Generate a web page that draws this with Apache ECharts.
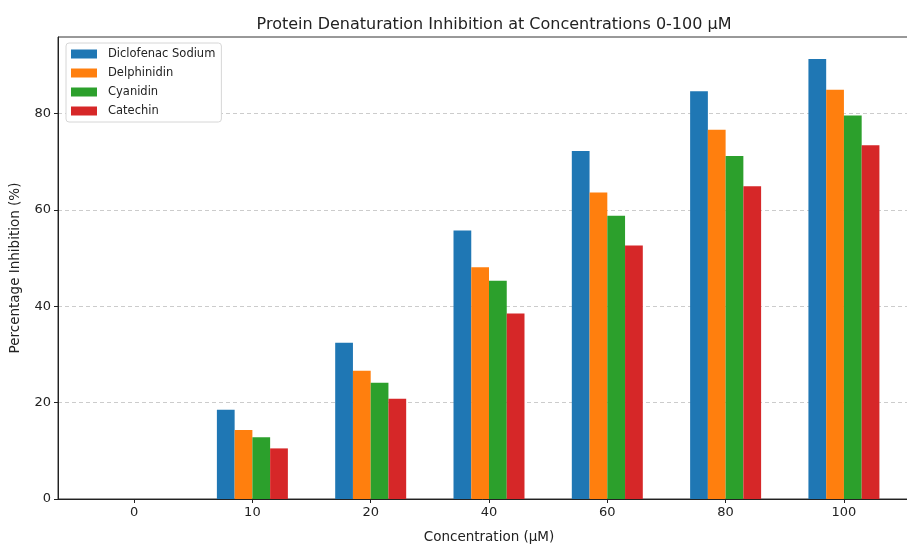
<!DOCTYPE html>
<html>
<head>
<meta charset="utf-8">
<script src="https://cdn.jsdelivr.net/npm/echarts@6/dist/echarts.min.js"></script>
<style>
  html, body { margin: 0; padding: 0; background: #fff; }
  #chart { width: 907px; height: 546px; }
</style>
</head>
<body>
<div id="chart"></div>
<script>
// concentrations (µM)
const concentrations = ["0", "10", "20", "40", "60", "80", "100"];

const diclofenac = [0, 18.5, 32.4, 55.7, 72.2, 84.6, 91.3];
const delphinidin = [0, 14.3, 26.6, 48.1, 63.6, 76.6, 84.9];
const cyanidin = [0, 12.8, 24.1, 45.3, 58.8, 71.2, 79.6];
const catechin = [0, 10.5, 20.8, 38.5, 52.6, 64.9, 73.4];

const seriesNames = ["Diclofenac Sodium", "Delphinidin", "Cyanidin", "Catechin"];
const seriesValues = [diclofenac, delphinidin, cyanidin, catechin];
const colors = ["#1f77b4", "#ff7f0e", "#2ca02c", "#d62728"];
const yTicks = [0, 20, 40, 60, 80];

const font = "'DejaVu Sans', sans-serif";
const barW = 0.15;

const chart = echarts.init(document.getElementById("chart"));

const series = seriesValues.map((vals, k) => ({
  name: seriesNames[k],
  type: "bar",
  barWidth: 17.75,
  barGap: "-100%",
  itemStyle: { color: colors[k] },
  data: vals.map((v, i) => [i + (k - 1.5) * barW, v])
}));

chart.setOption({
  animation: false,
  textStyle: { fontFamily: font },
  title: {
    text: "Protein Denaturation Inhibition at Concentrations 0-100 μM",
    left: 489,
    textAlign: "center",
    top: 12,
    textStyle: { fontSize: 16, fontWeight: "normal", color: "#222", fontFamily: font }
  },
  legend: {
    orient: "vertical",
    left: 66,
    top: 43,
    padding: [5, 6, 5, 5],
    itemWidth: 26,
    itemHeight: 9,
    itemGap: 7,
    icon: "rect",
    backgroundColor: "#fff",
    borderColor: "#d6d6d6",
    borderWidth: 1,
    borderRadius: 3,
    textStyle: { fontSize: 11.5, color: "#222", fontFamily: font, padding: [0, 0, 0, 6] },
    data: seriesNames
  },
  grid: {
    left: 58, top: 37, width: 862, height: 462,
    outerBoundsMode: "none",
    show: true, borderColor: "#333", borderWidth: 1
  },
  xAxis: {
    type: "value",
    min: -0.643,
    max: 6.643,
    name: "Concentration (μM)",
    nameLocation: "middle",
    nameGap: 31,
    nameTextStyle: { fontSize: 13.5, color: "#222" },
    axisLine: { show: true, onZero: false, lineStyle: { color: "#222" } },
    axisTick: { show: true, length: 4, customValues: [0, 1, 2, 3, 4, 5, 6], lineStyle: { color: "#222" } },
    axisLabel: {
      customValues: [0, 1, 2, 3, 4, 5, 6],
      formatter: v => concentrations[Math.round(v)],
      fontSize: 13,
      color: "#222",
      margin: 7
    },
    splitLine: { show: false }
  },
  yAxis: {
    type: "value",
    min: 0,
    max: 95.87,
    name: "Percentage Inhibition (%)",
    nameLocation: "middle",
    nameGap: 36,
    nameTextStyle: { fontSize: 13.5, color: "#222" },
    axisLine: { show: true, onZero: false, lineStyle: { color: "#222" } },
    axisTick: { show: true, length: 4, customValues: yTicks, lineStyle: { color: "#222" } },
    axisLabel: { customValues: yTicks, fontSize: 13, color: "#222", margin: 7 },
    splitLine: { show: true, lineStyle: { color: "#cccccc", type: [4, 3], width: 1 } }
  },
  series: series
});
</script>
</body>
</html>
